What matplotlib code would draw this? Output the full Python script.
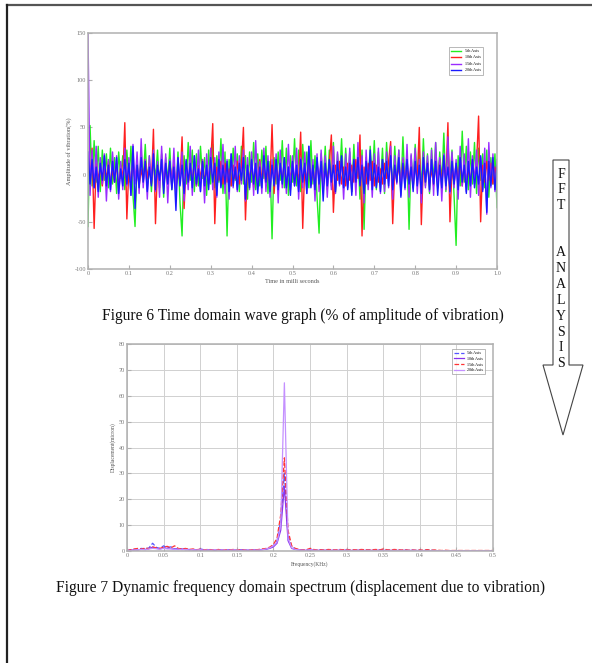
import numpy as np
import matplotlib
matplotlib.use("Agg")
from matplotlib import pyplot as plt
from matplotlib.patches import Polygon

plt.rcParams['font.family'] = ['Liberation Serif', 'DejaVu Serif']
plt.rcParams['axes.unicode_minus'] = False

# ---- time domain data (amplitude of vibration, %) ----
labels = ["5th Axis", "10th Axis", "15th Axis", "20th Axis"]

green = [-55, 52, -12, 36, -8, 30, -18, 26, -6, 22, -14, 28, -10, 18, -20, 24, -4, 20, -16, 26,
         -8, 30, -22, -55, 14, -10, 24, -6, 32, -12, 20, -18, 16, -4, 26, -14, 22, -24, 18, -8,
         28, -16, 12, -20, 24, -30, -65, 20, -10, 34, -6, 26, -18, 22, -12, 30, -4, 18, -22, 26,
         -10, 32, -14, 20, -8, 38, -20, 24, -65, 16, -12, 28, -6, 22, -18, 30, -10, 20, -26, 24,
         -8, 34, -16, 22, -12, 26, -4, 30, -20, 14, -68, 18, -10, 24, -6, 36, -14, 28, -22, 20,
         -8, 38, -12, 26, -18, 32, -6, 24, -14, 36, -10, 20, -24, -62, 22, -8, 30, -16, 26, -12,
         34, -20, 22, -6, 38, -14, 28, -10, 24, -18, 32, -8, 20, -26, 26, -58, 18, -12, 30, -6,
         36, -16, 24, -10, 28, -20, 34, -4, 22, -14, 30, -8, 26, -18, 40, -12, 24, -58, 20, -10,
         32, -6, 26, -16, 38, -12, 22, -20, 28, -8, 34, -14, 24, -10, 44, -18, 30, -6, 26, -22,
         -75, 20, -12, 46, -8, 30, -16, 24, -10, 34, -20, 28, -6, 22, -14, 26, -24, 18, -10, 22,
         -35]

red = [20, -8, 28, -57, 12, -6, 10, -12, 8, -4, 14, -10, 6, -8, 12, -14, 10, -6, 55, -47,
       8, -10, 14, -6, 10, -12, 6, -8, 16, -4, 12, -10, 48, -52, 10, -6, 14, -12, 8, -10,
       12, -6, 10, -14, 6, -8, 40, -36, 12, -10, 8, -6, 14, -12, 10, -4, 16, -8, 6, -10,
       12, 54, -52, 8, -6, 14, -10, 12, -8, 6, -12, 10, -4, 14, -10, 8, 50, -48, 10, -6,
       12, -14, 8, -8, 16, -6, 10, -12, 6, -10, 53, -20, 12, -8, 10, -6, 14, -12, 8, -4,
       12, -10, 6, -8, 45, -57, 10, -6, 14, -12, 8, -10, 12, -4, 10, -14, 6, -8, 12, 42,
       -40, 10, -6, 14, -10, 8, -12, 12, -6, 10, -8, 16, -4, 42, -65, 8, -10, 12, -6, 14,
       -12, 10, -8, 6, -10, 12, -4, 14, 35, -52, 8, -6, 10, -12, 16, -8, 6, -10, 12, -14,
       10, -6, 50, -53, 12, -8, 14, -10, 6, -12, 10, -4, 16, -8, 12, -6, 55, -50, 8, -10,
       12, -6, 14, -12, 10, -8, 6, -10, 16, -4, 12, 62, -50, 10, -8, 14, -6, 12, -10, 8,
       -4]

purple = [150, -22, 26, -14, 30, -24, 18, -10, 22, -28, 16, -18, 24, -8, 20, -26, 14, -16, 28, -12,
          18, -22, 32, -10, 24, -20, 38, -14, 16, -26, 20, -8, 26, -18, 14, -24, 30, -12, 22, -30,
          16, -14, 28, -20, 18, -10, 24, -28, 14, -16, 30, -22, 20, -12, 26, -18, 16, -30, 22, -10,
          28, -16, 18, -24, 24, -12, 32, -20, 16, -26, 22, -14, 30, -18, 20, -10, 26, -28, 18, -16,
          24, -22, 36, -12, 14, -20, 28, -18, 20, -24, 16, -10, 22, -30, 26, -14, 18, -20, 32, -16,
          20, -12, 28, -26, 18, -14, 24, -20, 30, -10, 16, -28, 22, -18, 26, -12, 20, -24, 14, -16,
          30, -20, 24, -12, 18, -26, 22, -14, 28, -18, 16, -22, 34, -10, 20, -30, 26, -16, 18, -24,
          22, -12, 28, -20, 16, -18, 24, -14, 30, -26, 20, -10, 26, -22, 18, -16, 32, -24, 22, -12,
          28, -20, 16, -30, 24, -14, 20, -18, 26, -22, 34, -12, 18, -28, 22, -16, 40, -20, 24, -14,
          16, -26, 30, -12, 22, -18, 38, -24, 20, -10, 26, -22, 18, -16, 28, -42, 34, -14, 22, -18,
          16]

blue = [24, -10, 16, -14, 8, -18, 12, -6, 20, -12, 10, -16, 14, -8, 18, -20, 6, -12, 16, -10,
        12, -22, 30, -36, 10, -14, 18, -8, 14, -18, 8, -12, 22, -16, 10, -6, 16, -20, 12, -10,
        14, -16, 8, -38, 18, -12, 10, -20, 16, -8, 12, -14, 20, -10, 6, -18, 14, -12, 10, -16,
        18, -8, 12, -22, 16, -14, 10, -10, 14, -18, 22, -12, 8, -16, 12, -6, 18, -26, 10, -14,
        16, -10, 12, -20, 8, -14, 20, -8, 14, -18, 10, -12, 16, -16, 12, -10, 18, -14, 8, -22,
        14, -12, 10, -18, 16, -8, 12, -20, 30, -14, 10, -16, 18, -10, 14, -28, 12, -12, 16, -8,
        10, -18, 14, -10, 20, -14, 8, -16, 12, -22, 16, -8, 18, -12, 10, -20, 14, -10, 26, -16,
        12, -14, 8, -18, 16, -10, 14, -12, 20, -16, 10, -8, 18, -24, 12, -14, 16, -10, 8, -18,
        14, -12, 10, -20, 18, -8, 12, -16, 16, -10, 14, -22, 10, -14, 20, -12, 8, -18, 14, -10,
        12, -16, 18, -8, 10, -20, 14, -12, 16, -14, 8, -10, 20, -18, 12, -40, 14, -12, 18, -16,
        10]

# ---- frequency domain data (displacement, micron) ----
spec_5 = [0.2, 0.4, 0.6, 0.8, 1.0, 0.8, 1.2, 3.0, 1.4, 1.0, 2.0, 1.2, 1.6, 0.8, 1.0, 0.6, 0.8, 0.5, 0.6, 0.4,
          0.8, 0.5, 0.4, 0.6, 0.3, 0.5, 0.4, 0.3, 0.5, 0.4, 0.3, 0.4, 0.5, 0.3, 0.4, 0.3, 0.5, 0.6, 0.8, 1.2,
          2.0, 4.0, 12.0, 30.0, 6.0, 1.5, 0.8, 0.5, 0.4, 0.3, 0.6, 0.4, 0.3, 0.4, 0.3, 0.5, 0.3, 0.2, 0.4, 0.3,
          0.5, 0.3, 0.2, 0.3, 0.4, 0.2, 0.3, 0.2, 0.4, 0.3, 0.5, 0.2, 0.3, 0.2, 0.3, 0.2, 0.4, 0.2, 0.3, 0.2,
          0.3, 0.2, 0.4, 0.3, 0.2, 0.1, 0.1, 0.1, 0.1, 0.1, 0.1, 0.1, 0.1, 0.1, 0.1, 0.1, 0.1, 0.1, 0.1, 0.1,
          0.1]
spec_10 = [0.1, 0.3, 0.5, 0.4, 0.7, 0.6, 0.9, 1.5, 1.0, 0.8, 1.2, 1.0, 0.9, 0.7, 0.6, 0.8, 0.5, 0.6, 0.4, 0.5,
           0.4, 0.3, 0.5, 0.4, 0.3, 0.4, 0.3, 0.2, 0.4, 0.3, 0.2, 0.3, 0.4, 0.2, 0.3, 0.4, 0.3, 0.5, 0.7, 1.0,
           1.6, 3.0, 8.0, 25.0, 4.0, 1.0, 0.6, 0.4, 0.3, 0.2, 0.4, 0.3, 0.2, 0.3, 0.2, 0.3, 0.2, 0.3, 0.2, 0.2,
           0.3, 0.2, 0.2, 0.3, 0.2, 0.2, 0.3, 0.2, 0.2, 0.3, 0.2, 0.2, 0.2, 0.2, 0.2, 0.2, 0.2, 0.2, 0.2, 0.2,
           0.1, 0.1, 0.1, 0.1, 0.1, 0.1, 0.1, 0.1, 0.1, 0.1, 0.1, 0.1, 0.1, 0.1, 0.1, 0.1, 0.1, 0.1, 0.1, 0.1,
           0.1]
spec_15 = [0.1, 0.5, 0.8, 1.0, 0.7, 1.2, 0.9, 1.6, 1.2, 1.0, 1.5, 1.8, 1.2, 2.0, 1.0, 0.8, 1.0, 0.6, 0.8, 0.5,
           0.7, 0.4, 0.6, 0.5, 0.4, 0.6, 0.3, 0.5, 0.4, 0.6, 0.3, 0.5, 0.4, 0.3, 0.5, 0.4, 0.6, 0.8, 1.0, 1.5,
           2.5, 5.0, 14.0, 36.0, 8.0, 2.0, 1.0, 0.6, 0.4, 0.5, 1.0, 0.6, 0.4, 0.5, 0.4, 0.6, 0.5, 0.4, 0.6, 0.5,
           0.6, 0.4, 0.5, 0.4, 0.6, 0.5, 0.4, 0.5, 0.6, 0.4, 0.8, 0.5, 0.4, 0.6, 0.5, 0.4, 0.5, 0.3, 0.4, 0.3,
           0.4, 0.3, 0.5, 0.3, 0.4, 0.3, 0.2, 0.3, 0.2, 0.2, 0.2, 0.2, 0.2, 0.2, 0.2, 0.2, 0.2, 0.2, 0.2, 0.2,
           0.2]
spec_20 = [0.1, 0.2, 0.4, 0.5, 0.6, 0.5, 0.8, 1.0, 0.9, 0.7, 1.0, 0.8, 0.9, 0.6, 0.7, 0.5, 0.6, 0.4, 0.5, 0.4,
           0.5, 0.3, 0.4, 0.3, 0.5, 0.3, 0.4, 0.3, 0.3, 0.4, 0.3, 0.2, 0.3, 0.4, 0.3, 0.3, 0.4, 0.5, 0.8, 1.2,
           2.0, 3.5, 10.0, 65.0, 5.0, 1.2, 0.6, 0.4, 0.3, 0.3, 0.5, 0.3, 0.3, 0.2, 0.3, 0.2, 0.3, 0.2, 0.3, 0.2,
           0.3, 0.2, 0.2, 0.2, 0.2, 0.2, 0.2, 0.2, 0.2, 0.2, 0.2, 0.2, 0.2, 0.2, 0.2, 0.2, 0.2, 0.2, 0.2, 0.2,
           0.1, 0.1, 0.1, 0.1, 0.1, 0.1, 0.1, 0.1, 0.1, 0.1, 0.1, 0.1, 0.1, 0.1, 0.1, 0.1, 0.1, 0.1, 0.1, 0.1,
           0.1]

t = np.linspace(0, 1, len(green))
f = np.linspace(0, 0.5, len(spec_5))

fig = plt.figure(figsize=(5.92, 6.63), dpi=100)
W, H = 592, 663


def style_axes(ax):
    for s in ax.spines.values():
        s.set_color("#b0b0b0")
        s.set_linewidth(1.1)
    ax.tick_params(direction="in", length=3, width=0.8, color="#b0b0b0",
                   labelsize=4.5, labelcolor="#777777", pad=1.5)


# top chart: time domain
ax1 = fig.add_axes([88 / W, 1 - 269 / H, (497 - 88) / W, (269 - 33) / H])
ax1.plot(t, green, color="#22ee22", lw=1.0, label=labels[0])
ax1.plot(t, red, color="#ff2020", lw=1.0, label=labels[1])
ax1.plot(t, purple, color="#9a2cff", lw=1.0, label=labels[2])
ax1.plot(t, blue, color="#1a1aff", lw=1.0, label=labels[3])
ax1.set_xlim(0, 1)
ax1.set_ylim(-100, 150)
ax1.set_xticks(np.arange(0, 1.01, 0.1))
ax1.set_xticklabels(["0", "0.1", "0.2", "0.3", "0.4", "0.5", "0.6", "0.7", "0.8", "0.9", "1.0"])
ax1.set_yticks([-100, -50, 0, 50, 100, 150])
ax1.set_xlabel("Time in milli seconds", fontsize=4.5, color="#555555", labelpad=2)
ax1.set_ylabel("Amplitude of vibration(%)", fontsize=4.5, color="#555555", labelpad=2)
style_axes(ax1)
leg = ax1.legend(loc="upper right", fontsize=3, handlelength=2.5, borderpad=0.5,
                 labelspacing=0.6, fancybox=False, bbox_to_anchor=(0.97, 0.95))
leg.get_frame().set_edgecolor("#999999")
leg.get_frame().set_linewidth(0.6)

# bottom chart: frequency spectrum
ax2 = fig.add_axes([127 / W, 1 - 551 / H, (493 - 127) / W, (551 - 344) / H])
ax2.plot(f, spec_5, color="#5555ff", lw=0.9, ls="--", label=labels[0])
ax2.plot(f, spec_10, color="#8833ee", lw=0.9, label=labels[1])
ax2.plot(f, spec_15, color="#ff3333", lw=0.9, ls="--", label=labels[2])
ax2.plot(f, spec_20, color="#c490ff", lw=0.9, label=labels[3])
ax2.set_xlim(0, 0.5)
ax2.set_ylim(0, 80)
ax2.set_xticks(np.arange(0, 0.501, 0.05))
ax2.set_xticklabels(["0", "0.05", "0.1", "0.15", "0.2", "0.25", "0.3", "0.35", "0.4", "0.45", "0.5"])
ax2.set_yticks(np.arange(0, 81, 10))
ax2.grid(True, color="#d0d0d0", lw=0.7)
ax2.set_xlabel("Frequency(KHz)", fontsize=4, color="#555555", labelpad=2)
ax2.set_ylabel("Displacement(micron)", fontsize=4, color="#555555", labelpad=2)
style_axes(ax2)
leg2 = ax2.legend(loc="upper right", fontsize=3, handlelength=2.5, borderpad=0.5,
                  labelspacing=0.4, fancybox=False, bbox_to_anchor=(0.985, 0.985))
leg2.get_frame().set_edgecolor("#999999")
leg2.get_frame().set_linewidth(0.6)

# overlay in pixel coordinates for page frame, captions and arrow
ov = fig.add_axes([0, 0, 1, 1], zorder=-1)
ov.set_xlim(0, W)
ov.set_ylim(H, 0)
ov.axis("off")
ov.plot([7, W], [5, 5], color="#555555", lw=1.6)
ov.plot([7, 7], [5, H], color="#222222", lw=1.6)

ov.text(303, 316, "Figure 6 Time domain wave graph (% of amplitude of vibration)",
        fontsize=11.2, ha="center", va="center", color="#111111")
ov.text(301, 588, "Figure 7 Dynamic frequency domain spectrum (displacement due to vibration)",
        fontsize=11.2, ha="center", va="center", color="#111111")

arrow = Polygon([(553, 160), (569, 160), (569, 365), (583, 365), (563, 435),
                 (543, 365), (553, 365)], closed=True, fill=False,
                edgecolor="#444444", lw=0.8)
ov.add_patch(arrow)
letters = ["F", "F", "T", "", "", "A", "N", "A", "L", "Y", "S", "I", "S"]
for i, ch in enumerate(letters):
    ov.text(561, 174 + i * 15.8, ch, fontsize=10, ha="center", va="center", color="#111111")

fig.savefig("out.png", dpi=100, facecolor="white")
